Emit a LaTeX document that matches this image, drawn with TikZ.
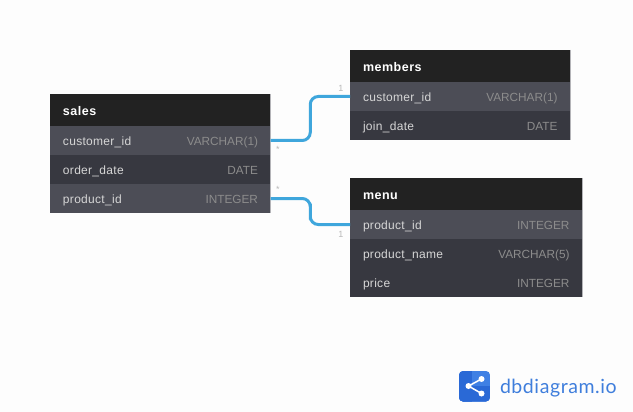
\documentclass[tikz,border=0pt]{standalone}
\usepackage{fontspec}
\setmainfont{Liberation Sans}
\newfontfamily\logofont{Lato}
\usetikzlibrary{positioning,calc}

\definecolor{pagebg}{HTML}{FDFDFD}
\definecolor{headbg}{HTML}{222222}
\definecolor{rowkey}{HTML}{4C4D56}
\definecolor{rowplain}{HTML}{373840}
\definecolor{nametxt}{HTML}{D6D6D6}
\definecolor{typetxt}{HTML}{8C8C8C}
\definecolor{reflink}{HTML}{3FA6DC}
\definecolor{edgegray}{HTML}{B4B4B8}
\definecolor{cardtxt}{HTML}{B8B8B8}
\definecolor{logoblue}{HTML}{3F80E4}
\definecolor{logodark}{HTML}{2A69D6}
\definecolor{logotxt}{HTML}{3F7EDC}

\newcommand{\spaced}{\addfontfeature{LetterSpace=2.5}}

\tikzset{
  every node/.style={outer sep=0pt},
  header/.style={fill=headbg,text=white,font=\fontsize{12.5}{14}\selectfont\bfseries\addfontfeature{LetterSpace=4},
    minimum height=32pt,text height=10.6pt,text depth=0pt,inner sep=0pt,inner xsep=13pt,align=left,anchor=north west},
  row/.style={text=nametxt,font=\fontsize{12}{14}\selectfont\spaced,
    minimum height=29pt,text height=9.6pt,text depth=0pt,inner sep=0pt,inner xsep=13pt,align=left,anchor=north},
  keyrow/.style={row,fill=rowkey},
  plainrow/.style={row,fill=rowplain},
  dtype/.style={text=typetxt,font=\fontsize{11.8}{14}\selectfont,text height=9.6pt,text depth=0pt,inner sep=0pt,anchor=east},
  link/.style={draw=reflink,line width=3pt,rounded corners=8pt},
  card/.style={text=cardtxt,font=\fontsize{9}{10}\selectfont,inner sep=0pt},
  rightedge/.style={draw=edgegray,line width=1pt}
}

\begin{document}
\begin{tikzpicture}[x=1pt,y=-1pt]
  \fill[pagebg] (0,0) rectangle (633,412);
  \useasboundingbox (0,0) rectangle (633,412);

  % sales
  \node[header,text width=194.5pt] (sales) at (50,94) {sales};
  \node[keyrow,text width=194.5pt]   (sales_customer) [below=0pt of sales]          {customer\_id};
  \node[plainrow,text width=194.5pt] (sales_date)     [below=0pt of sales_customer] {order\_date};
  \node[keyrow,text width=194.5pt]   (sales_product)  [below=0pt of sales_date]     {product\_id};
  \node[dtype] (sales_customer_t) at ($(sales_customer.east)+(-12.5,0)$) {VARCHAR(1)};
  \node[dtype] (sales_date_t)     at ($(sales_date.east)+(-12.5,0)$)     {DATE};
  \node[dtype] (sales_product_t)  at ($(sales_product.east)+(-12.5,0)$)  {INTEGER};
  \draw[rightedge] (sales.north east) -- (sales_product.south east);

  % members
  \node[header,text width=194pt] (members) at (350,50) {members};
  \node[keyrow,text width=194pt]   (members_customer) [below=0pt of members]          {customer\_id};
  \node[plainrow,text width=194pt] (members_join)     [below=0pt of members_customer] {join\_date};
  \node[dtype] (members_customer_t) at ($(members_customer.east)+(-12.5,0)$) {VARCHAR(1)};
  \node[dtype] (members_join_t)     at ($(members_join.east)+(-12.5,0)$)     {DATE};
  \draw[rightedge] (members.north east) -- (members_join.south east);

  % menu
  \node[header,text width=206pt] (menu) at (350,178) {menu};
  \node[keyrow,text width=206pt]   (menu_product) [below=0pt of menu]         {product\_id};
  \node[plainrow,text width=206pt] (menu_name)    [below=0pt of menu_product] {product\_name};
  \node[plainrow,text width=206pt] (menu_price)   [below=0pt of menu_name]    {price};
  \node[dtype] (menu_product_t) at ($(menu_product.east)+(-12.5,0)$) {INTEGER};
  \node[dtype] (menu_name_t)    at ($(menu_name.east)+(-12.5,0)$)    {VARCHAR(5)};
  \node[dtype] (menu_price_t)   at ($(menu_price.east)+(-12.5,0)$)   {INTEGER};
  \draw[rightedge] (menu.north east) -- (menu_price.south east);

  % relations
  \coordinate (bendtop) at ($(sales_customer.east)!.5!(members_customer.west)$);
  \coordinate (bendlow) at ($(sales_product.east)!.5!(menu_product.west)$);
  \draw[link] (sales_customer.east) -| (bendtop) |- (members_customer.west);
  \draw[link] (sales_product.east)  -| (bendlow) |- (menu_product.west);

  \node[card] (card_a) at (278,149) {*};
  \node[card] (card_b) at (341,88)  {1};
  \node[card] (card_c) at (278,189) {*};
  \node[card] (card_d) at (341,234) {1};

  % logo
  \begin{scope}
    \clip[rounded corners=4pt] (459,371) rectangle (490,401.5);
    \fill[logoblue] (459,371) rectangle (490,401.5);
    \fill[logodark] (459,371) rectangle (472,401.5);
    \fill[logodark] (459,386) rectangle (490,401.5);
  \end{scope}
  \coordinate (logo_hub) at (468.5,386);
  \coordinate (logo_top) at (481.5,379);
  \coordinate (logo_low) at (481.5,393.5);
  \draw[white,line width=1.5pt] (logo_top) -- (logo_hub) -- (logo_low);
  \fill[white] (logo_hub) circle (3pt) (logo_top) circle (3pt) (logo_low) circle (3pt);
  \node[text=logotxt,font=\logofont\fontsize{19.5}{21}\selectfont\addfontfeature{LetterSpace=3},inner sep=0pt,anchor=base west] (logo_name) at (500,393) {dbdiagram.io};
\end{tikzpicture}
\end{document}
